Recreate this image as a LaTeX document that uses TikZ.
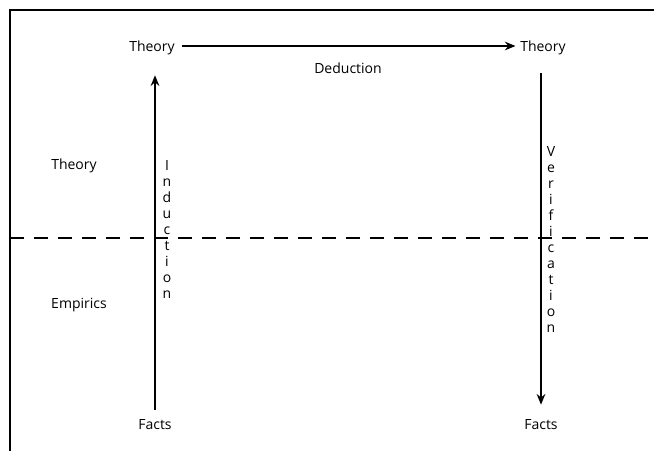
\documentclass[tikz,border=0pt]{standalone}
\usepackage{fontspec}
\setmainfont{Open Sans}
\usetikzlibrary{arrows.meta}
\begin{document}
\begin{tikzpicture}[x=0.75pt,y=-0.75pt,
  lbl/.style={inner sep=0pt,font=\fontsize{10.5}{12}\selectfont},
  vlbl/.style={inner sep=0pt,align=center,font=\fontsize{10.5}{12}\selectfont},
  arr/.style={line width=0.9pt,-{Stealth[length=8pt,width=6.5pt]}},
  frame/.style={line width=1pt},
  sep/.style={line width=0.8pt,dash pattern=on 10.5pt off 7.5pt}]
\useasboundingbox (0,0) rectangle (654,451);
\coordinate (fTL) at (10,10);
\coordinate (fTR) at (654,10);
\coordinate (fBL) at (10,451);
\draw[frame] (fTR) -- (fTL) -- (fBL);
\coordinate (dL) at (10,238);
\coordinate (dR) at (654,238);
\draw[sep] (dL) -- (dR);
\node[lbl] (tL) at (152,48) {Theory};
\node[lbl] (tR) at (543,48) {Theory};
\node[lbl] (ded) at (348,68) {Deduction};
\node[lbl] (fL) at (155,425) {Facts};
\node[lbl] (fR) at (541,425) {Facts};
\node[lbl] (thy) at (74,166) {Theory};
\node[lbl] (emp) at (79,305) {Empirics};
\draw[arr,shorten <=5.6pt,shorten >=3.4pt] ([yshift=1.5pt]tL.east) -- ([yshift=1.5pt]tR.west);
\draw[arr,shorten <=7.5pt,shorten >=15pt] (fL.north) -- (fL.north |- tL.south);
\draw[arr,shorten <=13.5pt,shorten >=11.25pt] (fR.north |- tR.south) -- (fR.north);
\node[vlbl] (ind) at (167,229) {I\\n\\d\\u\\c\\t\\i\\o\\n};
\node[vlbl] (ver) at (551,239) {V\\e\\r\\i\\f\\i\\c\\a\\t\\i\\o\\n};
\end{tikzpicture}
\end{document}
